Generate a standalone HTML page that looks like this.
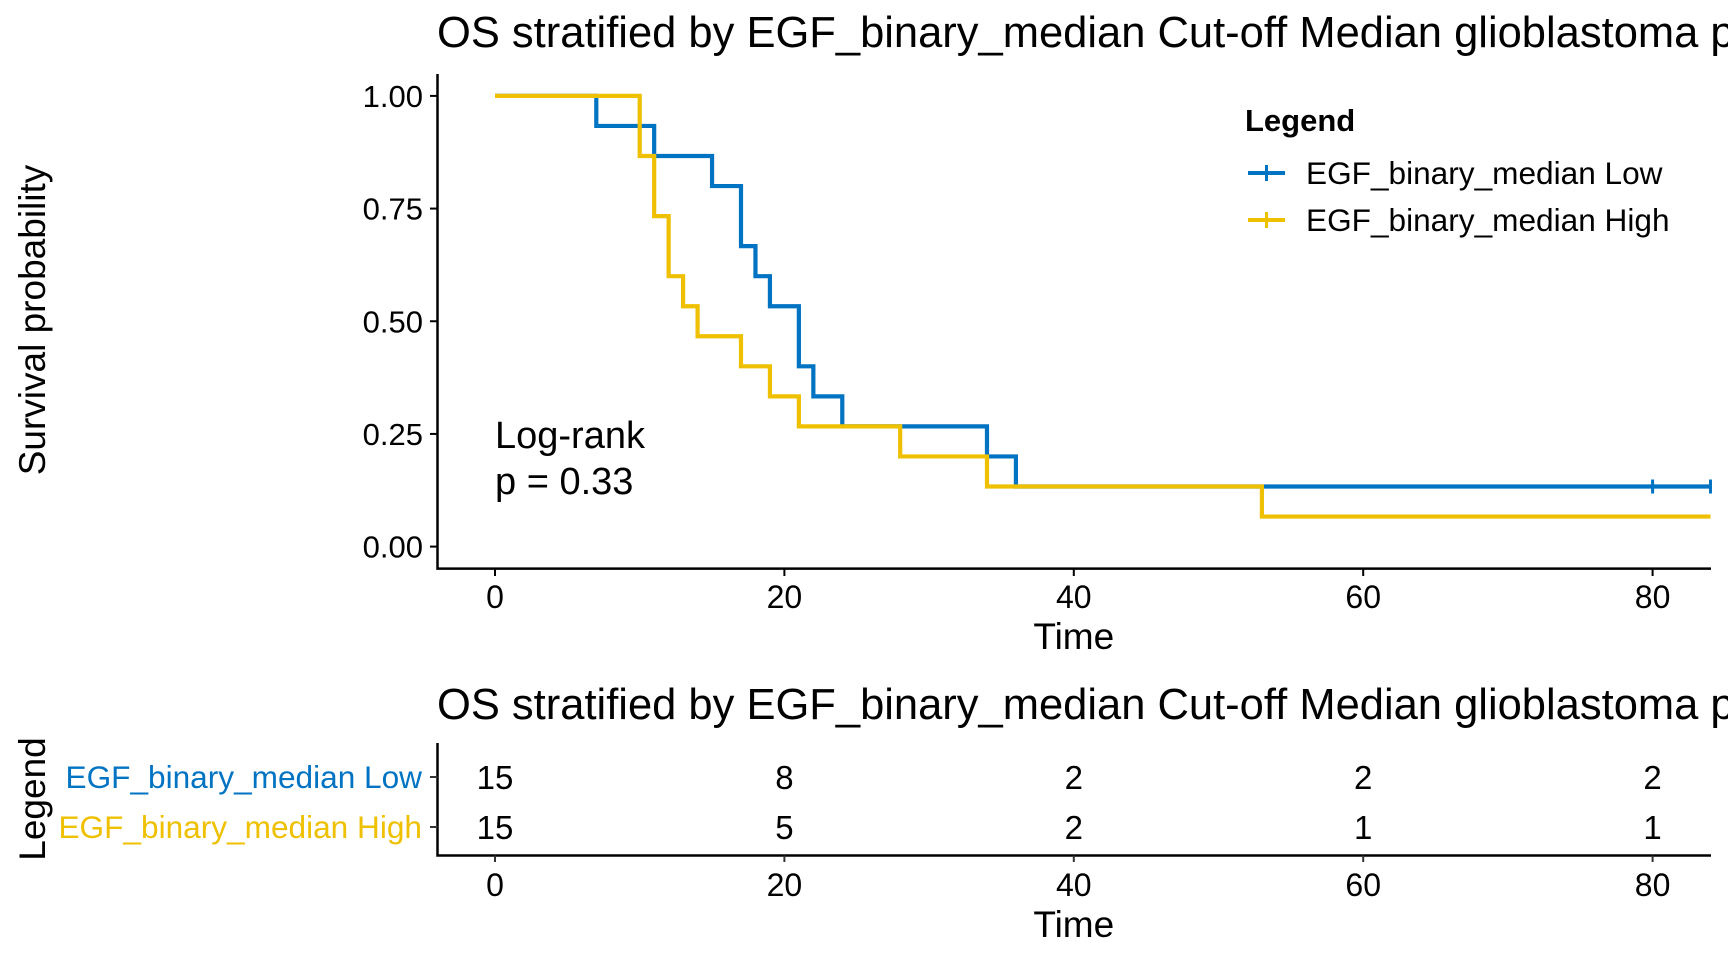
<!DOCTYPE html>
<html><head><meta charset="utf-8"><style>
html,body{margin:0;padding:0;background:#fff;overflow:hidden}
svg{display:block;font-family:"Liberation Sans",Arial,sans-serif}
</style></head><body>
<svg id="chart" width="1728" height="960" viewBox="0 0 1728 960"></svg>
<script>
const lowTimes=[0,7,11,15,17,18,19,21,22,24,34,36];
const lowSurv=[1,0.9333,0.8667,0.8,0.6667,0.6,0.5333,0.4,0.3333,0.2667,0.2,0.1333];
const highTimes=[0,10,11,12,13,14,17,19,21,28,34,53];
const highSurv=[1,0.8667,0.7333,0.6,0.5333,0.4667,0.4,0.3333,0.2667,0.2,0.1333,0.0667];
const lowCensor=[80,84];
const highCensor=[];
const lastTime=84;
const xTicks=[0,20,40,60,80];
const yTicks=[0,0.25,0.5,0.75,1];
const yTickLabels=["0.00","0.25","0.50","0.75","1.00"];
const riskLow=[15,8,2,2,2];
const riskHigh=[15,5,2,1,1];
const BLUE="#0073C2",YEL="#EFC000";
const NS="http://www.w3.org/2000/svg";
const svg=document.getElementById('chart');
function X(t){return 495+t*14.47;}
function Y(s){return 546.6-s*450.7;}
function el(tag,attrs,parent){const e=document.createElementNS(NS,tag);for(const k in attrs)e.setAttribute(k,attrs[k]);(parent||svg).appendChild(e);return e;}
function txt(s,attrs){const e=el('text',attrs);e.textContent=s;return e;}

let t=txt("OS stratified by EGF_binary_median Cut-off Median glioblastoma patients",{x:437,y:47,'font-size':43.5,fill:'#000'});



let ax=el('path',{d:'M437.5,74 V568.6 H1711',stroke:'#000','stroke-width':2.5,fill:'none'});


yTicks.forEach((v,i)=>{
  el('line',{x1:430,x2:437.5,y1:Y(v),y2:Y(v),stroke:'#000','stroke-width':2});
  const l=txt(yTickLabels[i],{x:423,y:Y(v)+11,'font-size':31,'text-anchor':'end'});
  
  
});
xTicks.forEach(v=>{
  el('line',{x1:X(v),x2:X(v),y1:568.6,y2:576,stroke:'#000','stroke-width':2});
  const l=txt(String(v),{x:X(v),y:608,'font-size':32,'text-anchor':'middle'});
  
  
});
t=txt("Time",{x:X(40),y:649,'font-size':37,'text-anchor':'middle'});


t=txt("Survival probability",{x:0,y:0,'font-size':37,'text-anchor':'middle',transform:'translate(45,320) rotate(-90)'});



function stepPath(times,surv){
  let d='M'+X(times[0])+','+Y(surv[0]);
  for(let i=1;i<times.length;i++){d+=' H'+X(times[i])+' V'+Y(surv[i]);}
  d+=' H'+X(lastTime);
  return d;
}
let p=el('path',{d:stepPath(lowTimes,lowSurv),stroke:BLUE,'stroke-width':4.2,fill:'none'});


p=el('path',{d:stepPath(highTimes,highSurv),stroke:YEL,'stroke-width':4.2,fill:'none'});


lowCensor.forEach(c=>{const m=el('line',{x1:X(c),x2:X(c),y1:Y(lowSurv[lowSurv.length-1])-7,y2:Y(lowSurv[lowSurv.length-1])+7,stroke:BLUE,'stroke-width':3});
  
  });
highCensor.forEach(c=>{const m=el('line',{x1:X(c),x2:X(c),y1:Y(highSurv[highSurv.length-1])-7,y2:Y(highSurv[highSurv.length-1])+7,stroke:YEL,'stroke-width':3});
  
  });

t=txt("Log-rank",{x:495,y:448,'font-size':38});


t=txt("p = 0.33",{x:495,y:494,'font-size':38});



t=txt("Legend",{x:1245,y:131,'font-size':31,'font-weight':'bold'});


[[BLUE,"EGF_binary_median Low",173],[YEL,"EGF_binary_median High",220]].forEach(([c,s,y],i)=>{
  const g=el('g',{});
  
  
  el('line',{x1:1248,x2:1285,y1:y,y2:y,stroke:c,'stroke-width':4},g);
  el('line',{x1:1266.5,x2:1266.5,y1:y-8,y2:y+8,stroke:c,'stroke-width':3},g);
  const e=el('text',{x:1306,y:y+11,'font-size':31.6},g);e.textContent=s;
});

t=txt("OS stratified by EGF_binary_median Cut-off Median glioblastoma patients",{x:437,y:719,'font-size':43.5});


ax=el('path',{d:'M437.5,743 V855.5 H1711',stroke:'#000','stroke-width':2.5,fill:'none'});


[[BLUE,"EGF_binary_median Low",777,riskLow],[YEL,"EGF_binary_median High",827,riskHigh]].forEach(([c,s,y,arr],i)=>{
  el('line',{x1:430,x2:437.5,y1:y,y2:y,stroke:'#333','stroke-width':2});
  const l=txt(s,{x:422,y:y+11,'font-size':31.6,'text-anchor':'end',fill:c});
  
  
  arr.forEach((v,j)=>{const n=txt(String(v),{x:X(xTicks[j]),y:y+12,'font-size':33,'text-anchor':'middle'});
    
    });
});
xTicks.forEach(v=>{
  el('line',{x1:X(v),x2:X(v),y1:855.5,y2:862,stroke:'#333','stroke-width':2});
  const l=txt(String(v),{x:X(v),y:896,'font-size':32,'text-anchor':'middle'});
  
  
});
t=txt("Time",{x:X(40),y:937,'font-size':37,'text-anchor':'middle'});


t=txt("Legend",{x:0,y:0,'font-size':37,'text-anchor':'middle',transform:'translate(45,799) rotate(-90)'});


</script>
</body></html>
